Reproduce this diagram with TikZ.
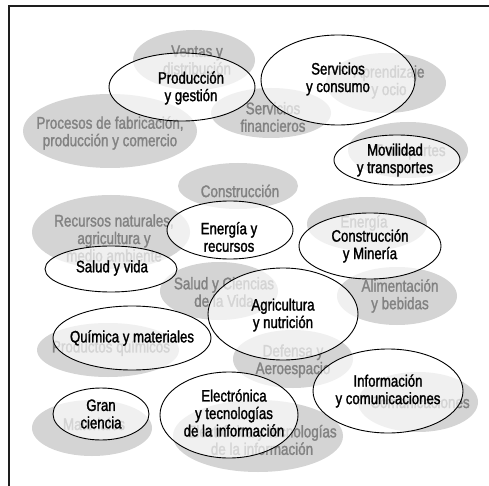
\documentclass[tikz,border=0pt]{standalone}
\usepackage{fontspec}
\setmainfont{Liberation Sans}[FakeStretch=0.8,FakeBold=1.5]
\usetikzlibrary{shapes.geometric}
\definecolor{areafill}{RGB}{212,212,212}
\definecolor{areatext}{RGB}{130,130,130}
\definecolor{framecol}{RGB}{30,30,30}
\tikzset{
  area/.style={ellipse, fill=areafill, draw=none, inner sep=0pt},
  areatxt/.style={text=areatext, align=center, inner sep=0pt,
    font=\fontsize{16.8}{17.5}\selectfont},
  field/.style={ellipse, draw=black, line width=0.9pt, fill=white,
    fill opacity=0.66, draw opacity=1, text opacity=1, inner sep=0pt},
  fieldtxt/.style={text=black, align=center, inner sep=0pt,
    font=\fontsize{16.5}{17.5}\selectfont},
}
\begin{document}
\begin{tikzpicture}[x=1pt,y=-1pt]
\useasboundingbox (0,0) rectangle (489,486);
\fill[white] (0,0) rectangle (489,486);

% frame (continues beyond the right and bottom edges)
\coordinate (fTL) at (9,5.8);
\coordinate (fTR) at (495,5.8);
\coordinate (fBL) at (9,495);
\draw[framecol, line width=2.2pt] (fTR) -- (fTL) -- (fBL);

% ---- grey sector areas ----
\node[area, minimum width=122, minimum height=60] (g-ventas) at (194,60) {};
\node[area, minimum width=174, minimum height=74] (g-proc) at (110,131) {};
\node[area, minimum width=120, minimum height=50] (g-fin) at (271,113) {};
\node[area, minimum width=120, minimum height=60] (g-apr) at (386,83) {};
\node[area, minimum width=120, minimum height=56] (g-trans) at (408,150) {};
\node[area, minimum width=120, minimum height=46] (g-cons) at (238,186) {};
\node[area, minimum width=158, minimum height=74] (g-rec) at (111,232) {};
\node[area, minimum width=120, minimum height=54] (g-ener) at (367,224) {};
\node[area, minimum width=118, minimum height=58] (g-salud) at (219,291) {};
\node[area, minimum width=120, minimum height=58] (g-alim) at (397,296) {};
\node[area, minimum width=142, minimum height=54] (g-quim) at (108,350) {};
\node[area, minimum width=120, minimum height=58] (g-def) at (293,359) {};
\node[area, minimum width=120, minimum height=60] (g-com) at (418,402) {};
\node[area, minimum width=120, minimum height=56] (g-mat) at (92,428) {};
\node[area, minimum width=170, minimum height=72] (g-elec) at (258,436) {};

\node[areatxt] (t-ventas) at (197,60) {Ventas y\\distribución};
\node[areatxt] (t-proc) at (110,133) {Procesos de fabricación,\\producción y comercio};
\node[areatxt] (t-fin) at (273,117) {Servicios\\financieros};
\node[areatxt] (t-apr) at (389,82) {Aprendizaje\\y ocio};
\node[areatxt] (t-trans) at (410,152) {Transportes};
\node[areatxt] (t-cons) at (240,191) {Construcción};
\node[areatxt] (t-rec) at (114,238) {Recursos naturales,\\agricultura y\\medio ambiente};
\node[areatxt] (t-ener) at (364,223) {Energía};
\node[areatxt] (t-salud) at (224,292) {Salud y Ciencias\\de la Vida};
\node[areatxt] (t-alim) at (400,296) {Alimentación\\y bebidas};
\node[areatxt] (t-quim) at (111,348) {Productos químicos};
\node[areatxt] (t-def) at (293,361) {Defensa y\\Aeroespacio};
\node[areatxt] (t-com) at (420,402) {Comunicaciones};
\node[areatxt] (t-mat) at (94,424) {Materiales};
\node[areatxt] (t-elec) at (262,440) {Electrónica y tecnologías\\de la información};

% ---- outlined fields ----
\node[field, minimum width=146, minimum height=68] (f-prod) at (182,87) {};
\node[field, minimum width=154, minimum height=90] (f-serv) at (338,80) {};
\node[field, minimum width=126, minimum height=50] (f-mov) at (397,160) {};
\node[field, minimum width=126, minimum height=58] (f-ener) at (230,230) {};
\node[field, minimum width=142, minimum height=66] (f-cons) at (370,246) {};
\node[field, minimum width=132, minimum height=46] (f-salud) at (111,269) {};
\node[field, minimum width=150, minimum height=92] (f-agri) at (283,314) {};
\node[field, minimum width=158, minimum height=64] (f-quim) at (132,338) {};
\node[field, minimum width=96, minimum height=52] (f-gran) at (101,414) {};
\node[field, minimum width=138, minimum height=86] (f-elec) at (229,415) {};
\node[field, minimum width=150, minimum height=84] (f-info) at (388,391) {};

\node[fieldtxt] (l-prod) at (191,88) {Producción\\y gestión};
\node[fieldtxt] (l-serv) at (338,79) {Servicios\\y consumo};
\node[fieldtxt] (l-mov) at (395,160) {Movilidad\\y transportes};
\node[fieldtxt] (l-ener) at (229,237) {Energía y\\recursos};
\node[fieldtxt] (l-cons) at (370,246) {Construcción\\y Minería};
\node[fieldtxt] (l-salud) at (112,268) {Salud y vida};
\node[fieldtxt] (l-agri) at (283,315) {Agricultura\\y nutrición};
\node[fieldtxt] (l-quim) at (132,338) {Química y materiales};
\node[fieldtxt] (l-gran) at (101,414) {Gran\\ciencia};
\node[fieldtxt] (l-elec) at (234,413) {Electrónica\\y tecnologías\\de la información};
\node[fieldtxt] (l-info) at (388,391) {Información\\y comunicaciones};
\end{tikzpicture}
\end{document}
